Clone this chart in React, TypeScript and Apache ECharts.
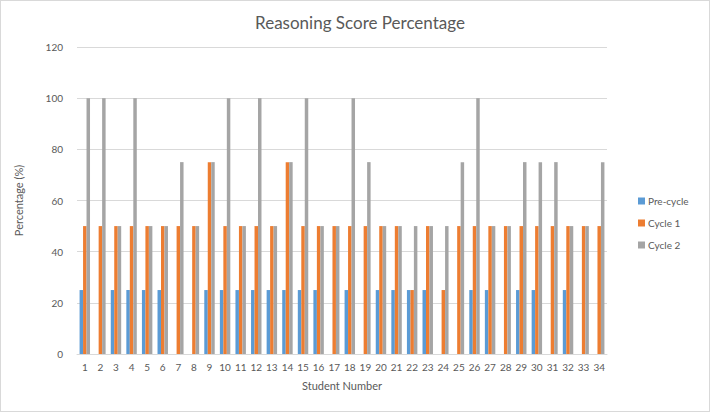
import React, { useEffect, useRef } from "react";
import * as echarts from "echarts";

const students = Array.from({ length: 34 }, (_, i) => String(i + 1));
const preCycle = [25, 0, 25, 25, 25, 25, 0, 0, 25, 25, 25, 25, 25, 25, 25, 25, 0, 25, 0, 25, 25, 25, 25, 0, 0, 25, 25, 0, 25, 25, 0, 25, 0, 0];
const cycle1 = [50, 50, 50, 50, 50, 50, 50, 50, 75, 50, 50, 50, 50, 75, 50, 50, 50, 50, 50, 50, 50, 25, 50, 25, 50, 50, 50, 50, 50, 50, 50, 50, 50, 50];
const cycle2 = [100, 100, 50, 100, 50, 50, 75, 50, 75, 100, 50, 100, 50, 75, 100, 50, 50, 100, 75, 50, 50, 50, 50, 50, 75, 100, 50, 50, 75, 75, 75, 50, 50, 75];
const yTicks = [0, 20, 40, 60, 80, 100, 120];

const FONT = "Lato, 'Open Sans', sans-serif";
const TXT = "#595959";

export default function App() {
  const ref = useRef<HTMLDivElement>(null);
  useEffect(() => {
    const chart = echarts.init(ref.current!, null, { renderer: "svg" });
    chart.setOption({
      animation: false,
      backgroundColor: "#fff",
      textStyle: { fontFamily: FONT, color: TXT },
      title: {
        text: "Reasoning Score Percentage",
        left: 354,
        textAlign: "center",
        top: 8,
        textStyle: { fontFamily: FONT, fontSize: 17, fontWeight: "normal", color: TXT },
      },
      legend: {
        orient: "vertical",
        left: 632,
        top: 190,
        itemWidth: 7,
        itemHeight: 7,
        itemGap: 12,
        icon: "rect",
        textStyle: { fontFamily: FONT, fontSize: 10, color: TXT, padding: [0, 0, 0, -2] },
        data: ["Pre-cycle", "Cycle 1", "Cycle 2"],
      },
      grid: { left: 76, right: 102, top: 46, bottom: 57 },
      xAxis: {
        type: "category",
        data: students,
        name: "Student Number",
        nameLocation: "middle",
        nameGap: 26,
        nameTextStyle: { fontFamily: FONT, fontSize: 11, color: TXT },
        axisLine: { lineStyle: { color: "#D9D9D9" } },
        axisTick: { show: false },
        axisLabel: { interval: 0, fontFamily: FONT, fontSize: 10, color: TXT, margin: 8 },
      },
      yAxis: {
        type: "value",
        min: yTicks[0],
        max: yTicks[yTicks.length - 1],
        interval: 20,
        name: "Percentage (%)",
        nameLocation: "middle",
        nameGap: 53,
        nameTextStyle: { fontFamily: FONT, fontSize: 11, color: TXT },
        axisLine: { show: false },
        axisTick: { show: false },
        axisLabel: { fontFamily: FONT, fontSize: 10, color: TXT, margin: 14 },
        splitLine: { lineStyle: { color: "#D9D9D9" } },
      },
      series: [
        { name: "Pre-cycle", type: "bar", data: preCycle, itemStyle: { color: "#5B9BD5" }, barGap: "0%", barCategoryGap: "33%" },
        { name: "Cycle 1", type: "bar", data: cycle1, itemStyle: { color: "#ED7D31" }, barGap: "0%", barCategoryGap: "33%" },
        { name: "Cycle 2", type: "bar", data: cycle2, itemStyle: { color: "#A5A5A5" }, barGap: "0%", barCategoryGap: "33%" },
      ],
    });
    return () => chart.dispose();
  }, []);
  return (
    <div
      ref={ref}
      style={{ position: "fixed", left: 0, top: 0, width: 710, height: 412, boxSizing: "border-box", border: "1px solid #D9D9D9" }}
    />
  );
}
